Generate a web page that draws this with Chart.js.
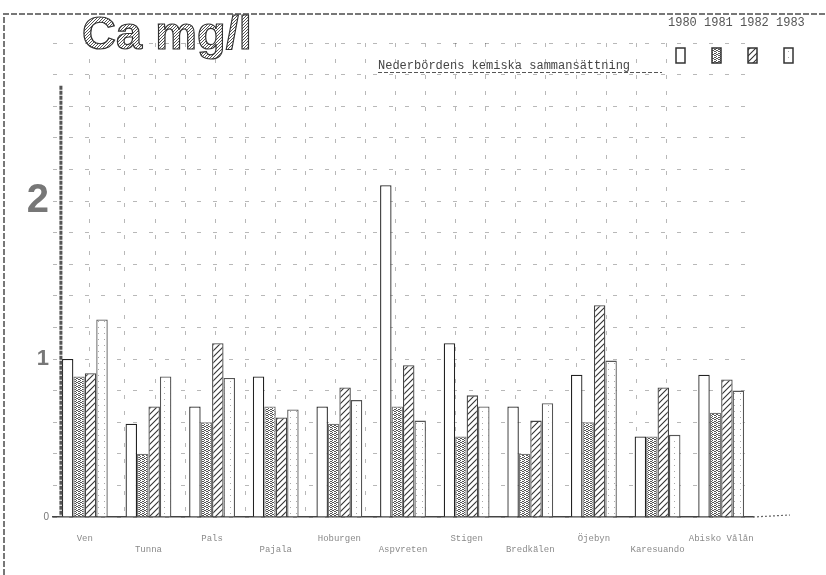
<!DOCTYPE html>
<html><head><meta charset="utf-8">
<script src="https://cdn.jsdelivr.net/npm/chart.js@4.4.1/dist/chart.umd.min.js"></script>
<style>html,body{margin:0;padding:0;background:#fff}#wrap{width:826px;height:575px;position:relative}</style>
</head><body><div id="wrap"><canvas id="c" width="826" height="575"></canvas></div>
<script>
// ---- data ----
const categories = ['Ven','Tunna','Pals','Pajala','Hoburgen','Aspvreten','Stigen','Bredkälen','Öjebyn','Karesuando','Abisko Vålån'];
const years = ['1980','1981','1982','1983'];
const ca1980 = [1.00,0.59,0.70,0.89,0.70,2.10,1.10,0.70,0.90,0.51,0.90];
const ca1981 = [0.89,0.40,0.60,0.70,0.59,0.70,0.51,0.40,0.60,0.51,0.66];
const ca1982 = [0.91,0.70,1.10,0.63,0.82,0.96,0.77,0.61,1.34,0.82,0.87];
const ca1983 = [1.25,0.89,0.88,0.68,0.74,0.61,0.70,0.72,0.99,0.52,0.80];
const yTickLabels = {0:'0',1:'1',2:'2'};
const chartTitle = 'Ca mg/l';
const chartSubtitle = 'Nederbördens kemiska sammansättning';

const canvas = document.getElementById('c');
const ctx = canvas.getContext('2d');
function pat(w,h,draw){const c=document.createElement('canvas');c.width=w;c.height=h;const g=c.getContext('2d');g.fillStyle='#fff';g.fillRect(0,0,w,h);draw(g);return ctx.createPattern(c,'repeat');}
const stipple = pat(4,4,g=>{g.fillStyle='#555';[[0,0],[2,1],[1,2],[3,3],[3,1],[0,2],[2,3]].forEach(p=>g.fillRect(p[0],p[1],1,1));});
const hatch = pat(6,6,g=>{g.strokeStyle='#333';g.lineWidth=1.1;g.beginPath();g.moveTo(0,6);g.lineTo(6,0);g.moveTo(-1,1);g.lineTo(1,-1);g.moveTo(5,7);g.lineTo(7,5);g.stroke();});
const sparse = pat(6,6,g=>{g.fillStyle='#aaa';g.fillRect(2,3,1,1);});
const titleFill = pat(3,3,g=>{g.fillStyle='#555';g.fillRect(0,0,1,1);g.fillRect(2,1,1,1);g.fillRect(1,2,1,1);});

const seriesValues = [ca1980, ca1981, ca1982, ca1983];
const fills = ['#ffffff', stipple, hatch, sparse];
const borders = ['#222', '#777', '#444', '#555'];

const datasets = years.map((y,i)=>({
  label:y, data:seriesValues[i], backgroundColor:fills[i], borderColor:borders[i],
  borderWidth:{left:1.3,right:1.3,top:1.3,bottom:0}, borderSkipped:false,
  barPercentage:1.0, categoryPercentage:0.72
}));

const gridColor = 'rgba(0,0,0,0.28)';

const deco = {
  id:'deco',
  afterDatasetsDraw(chart){
    const c = chart.ctx, ys = chart.scales.y, xs = chart.scales.x;
    const b = chart.getDatasetMeta(0).data[0];
    const x = b.x - b.width/2 - 1;
    c.save();
    c.strokeStyle='#555'; c.lineWidth=3; c.setLineDash([4,1]);
    c.beginPath(); c.moveTo(x, ys.getPixelForValue(2.73)); c.lineTo(x, ys.getPixelForValue(0)); c.stroke();
    // dotted continuation of the baseline
    c.lineWidth=1.2; c.strokeStyle='#666'; c.setLineDash([2,2]);
    c.beginPath(); c.moveTo(xs.right, ys.getPixelForValue(0)); c.lineTo(xs.right+37, ys.getPixelForValue(0)-2); c.stroke();
    c.restore();
  },
  afterDraw(chart){
    const c = chart.ctx;
    c.save();
    // scan frame
    c.strokeStyle='#777'; c.lineWidth=2; c.setLineDash([6,2]);
    c.beginPath(); c.moveTo(4,575); c.lineTo(4,14); c.lineTo(826,14); c.stroke();
    c.setLineDash([]);
    // title
    c.font='bold 47px "Liberation Sans", Arial, sans-serif';
    c.textBaseline='alphabetic'; c.textAlign='left';
    c.fillStyle=titleFill; c.fillText(chartTitle, 82, 49);
    c.strokeStyle='#333'; c.lineWidth=1.2; c.strokeText(chartTitle, 82, 49);
    // subtitle
    c.font='12px "Liberation Mono", monospace'; c.fillStyle='#444';
    c.fillText(chartSubtitle, 378, 69);
    c.strokeStyle='#555'; c.lineWidth=1; c.setLineDash([4,2]);
    c.beginPath(); c.moveTo(378,72.5); c.lineTo(662,72.5); c.stroke();
    c.setLineDash([]);
    // legend: years with swatches below
    c.font='12px "Liberation Mono", monospace';
    const ds = chart.data.datasets;
    ds.forEach((d,i)=>{
      const tx = 668 + i*36;
      c.fillStyle='#555'; c.fillText(d.label, tx, 26);
      c.fillStyle=d.backgroundColor; c.fillRect(tx+8, 48, 9, 15);
      c.strokeStyle='#333'; c.lineWidth=1.5; c.strokeRect(tx+8, 48, 9, 15);
    });
    c.restore();
  }
};

new Chart(canvas, {
  type:'bar',
  data:{ labels: categories.map((s,i)=> i%2===0 ? [s] : ['', s]), datasets },
  options:{
    responsive:false, animation:false, devicePixelRatio:1,
    layout:{padding:{left:0,right:73,top:43,bottom:0}},
    plugins:{legend:{display:false}, title:{display:false}, tooltip:{enabled:false}},
    scales:{
      x:{
        type:'category', offset:true,
        grid:{display:false},
        border:{display:true, color:'#444', width:1.5},
        ticks:{font:{family:'"Liberation Mono", monospace', size:9}, color:'#8a8a8a', maxRotation:0, minRotation:0, autoSkip:false, padding:8},
        afterFit(s){ s.height = 58; }
      },
      xg:{
        type:'linear', position:'bottom', display:true, min:-0.365, max:21.857,
        ticks:{display:false, stepSize:1},
        grid:{drawTicks:false, lineWidth:1, color:(ctx)=> (ctx.tick && Number.isInteger(ctx.tick.value)) ? gridColor : 'rgba(0,0,0,0)'},
        border:{display:false, dash:[4,12]},
        afterFit(s){ s.height = 0; }
      },
      y:{
        min:0, max:3.0,
        ticks:{
          stepSize:0.2, padding:4, color:'#777', autoSkip:false,
          callback:(v)=>{ const r=Math.round(v); return (Math.abs(v-r)<1e-6 && yTickLabels[r]!==undefined) ? yTickLabels[r] : ''; },
          font:(ctx)=>{ const v = ctx.tick ? ctx.tick.value : 0;
            if (Math.abs(v-2)<1e-6) return {family:'"Liberation Sans", Arial', size:40, weight:'bold'};
            if (Math.abs(v-1)<1e-6) return {family:'"Liberation Sans", Arial', size:22, weight:'bold'};
            return {family:'"Liberation Sans", Arial', size:10}; }
        },
        grid:{drawTicks:false, lineWidth:1, color:gridColor},
        border:{display:false, dash:[4,12]},
        afterFit(s){ s.width = 53; }
      }
    }
  },
  plugins:[deco]
});
</script>
</body></html>
